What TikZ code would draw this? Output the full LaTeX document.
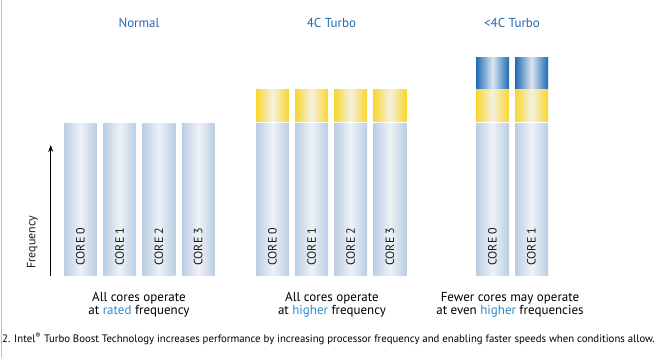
\documentclass[tikz,border=0pt]{standalone}
\usepackage{fontspec}
\setmainfont{PT Sans}
\usetikzlibrary{arrows.meta}
\definecolor{basecol}{HTML}{BACDE4}
\definecolor{basemid}{HTML}{EFF2F7}
\definecolor{turbocol}{HTML}{F8D62C}
\definecolor{turbomid}{HTML}{F5F1E2}
\definecolor{boostcol}{HTML}{1D6BB5}
\definecolor{boostmid}{HTML}{DDE5EF}
\definecolor{titlecol}{HTML}{2368AE}
\definecolor{hicol}{HTML}{2A8CCD}
\tikzset{
  basebar/.style={left color=basecol, right color=basecol, middle color=basemid},
  turbobar/.style={left color=turbocol, right color=turbocol, middle color=turbomid},
  boostbar/.style={left color=boostcol, right color=boostcol, middle color=boostmid},
  corelabel/.style={rotate=90, anchor=west, inner sep=0pt, text=black!90, font=\fontsize{12}{12}\selectfont},
  heading/.style={text=titlecol, font=\fontsize{13}{13}\selectfont},
  caption/.style={align=center, text=black, font=\fontsize{13}{13}\selectfont}
}
\begin{document}
\begin{tikzpicture}[x=1pt, y=-1pt]
\useasboundingbox (0,0) rectangle (661,358);
\draw[black!25] (1.5,0) -- (1.5,358);
% Normal
\node[heading] (normal) at (139,23) {Normal};
\shade[basebar] (64,124) rectangle ++(32.7,151.7);
\shade[basebar] (103.3,124) rectangle ++(32.7,151.7);
\shade[basebar] (142.6,124) rectangle ++(32.7,151.7);
\shade[basebar] (181.9,124) rectangle ++(32.7,151.7);
\node[corelabel] (n0) at (80.3,266) {CORE 0};
\node[corelabel] (n1) at (119.6,266) {CORE 1};
\node[corelabel] (n2) at (158.9,266) {CORE 2};
\node[corelabel] (n3) at (198.2,266) {CORE 3};
\node[caption] (normaltext) at (139,304.5) {All cores operate\\at \textcolor{hicol}{rated} frequency};
% 4C Turbo
\node[heading] (turbo) at (331.5,23) {4C Turbo};
\shade[turbobar] (256,90) rectangle ++(33,31.7);
\shade[turbobar] (295.1,90) rectangle ++(33,31.7);
\shade[turbobar] (334.2,90) rectangle ++(33,31.7);
\shade[turbobar] (373.3,90) rectangle ++(33,31.7);
\shade[basebar] (256,124) rectangle ++(33,151.7);
\shade[basebar] (295.1,124) rectangle ++(33,151.7);
\shade[basebar] (334.2,124) rectangle ++(33,151.7);
\shade[basebar] (373.3,124) rectangle ++(33,151.7);
\node[corelabel] (t0) at (272.5,266) {CORE 0};
\node[corelabel] (t1) at (311.6,266) {CORE 1};
\node[corelabel] (t2) at (350.7,266) {CORE 2};
\node[corelabel] (t3) at (389.8,266) {CORE 3};
\node[caption] (turbotext) at (332,304.5) {All cores operate\\at \textcolor{hicol}{higher} frequency};
% <4C Turbo
\node[heading] (fewer) at (512,23) {<4C Turbo};
\shade[boostbar] (476,57.3) rectangle ++(33,31.4);
\shade[boostbar] (515,57.3) rectangle ++(33,31.4);
\shade[turbobar] (476,90) rectangle ++(33,31.7);
\shade[turbobar] (515,90) rectangle ++(33,31.7);
\shade[basebar] (476,124) rectangle ++(33,151.7);
\shade[basebar] (515,124) rectangle ++(33,151.7);
\node[corelabel] (f0) at (492.5,266) {CORE 0};
\node[corelabel] (f1) at (531.5,266) {CORE 1};
\node[caption] (fewertext) at (510,304.5) {Fewer cores may operate\\at even \textcolor{hicol}{higher} frequencies};
% frequency axis
\coordinate (axisbot) at (50.7,276);
\coordinate (axistop) at (50.7,145);
\draw[line width=0.8pt, -{Stealth[length=7pt, width=5pt]}] (axisbot) -- (axistop);
\node[corelabel, anchor=center] (freq) at (32.5,242) {Frequency};
% footnote
\node[anchor=west, inner sep=0pt, text=black, font=\fontsize{10.8}{10.8}\selectfont] (note) at (2,339) {2. Intel\textsuperscript{®} Turbo Boost Technology increases performance by increasing processor frequency and enabling faster speeds when conditions allow.};
\end{tikzpicture}
\end{document}
